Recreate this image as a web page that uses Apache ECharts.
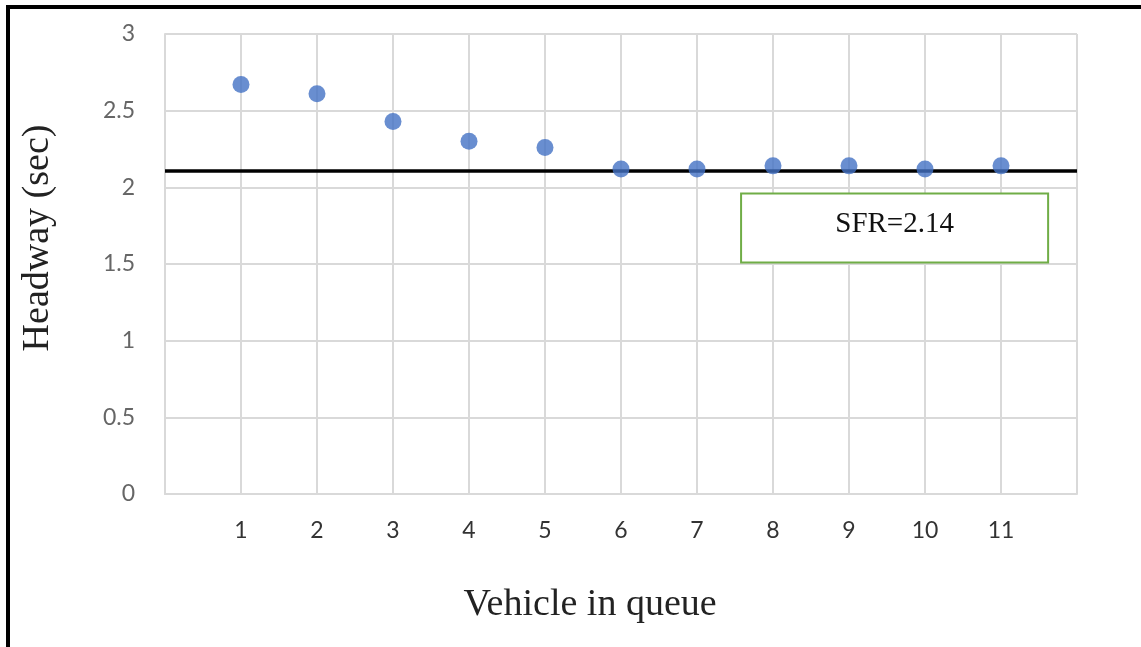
<!DOCTYPE html>
<html>
<head>
<meta charset="utf-8">
<script src="https://cdn.jsdelivr.net/npm/echarts@6/dist/echarts.min.js"></script>
<style>
  html, body { margin: 0; padding: 0; background: #fff; }
  #chart { width: 1141px; height: 647px; }
</style>
</head>
<body>
<div id="chart"></div>
<script>
// Vehicle position in the queue and the measured headway for each (sec)
const vehicles = [1, 2, 3, 4, 5, 6, 7, 8, 9, 10, 11];
const headways = [2.67, 2.61, 2.43, 2.30, 2.26, 2.12, 2.12, 2.14, 2.14, 2.12, 2.14];

// Saturation headway reference line and its annotation
const saturationLine = 2.11;
const sfrText = 'SFR=2.14';
const sfrBox = { x0: 7.58, x1: 11.62, y0: 1.51, y1: 1.96 };

// Axis ticks
const xTickLabels = ['1', '2', '3', '4', '5', '6', '7', '8', '9', '10', '11'];
const yTickLabels = ['0', '0.5', '1', '1.5', '2', '2.5', '3'];

const serif = '"Liberation Serif", "Times New Roman", serif';
const sans = 'Lato, "Open Sans", sans-serif';
const gridGrey = '#d9d9d9';

const chart = echarts.init(document.getElementById('chart'), null, { renderer: 'canvas' });

chart.setOption({
  animation: false,
  backgroundColor: '#fff',
  grid: { left: 165, right: 64, top: 34, bottom: 153, containLabel: false },
  xAxis: {
    type: 'value',
    min: 0,
    max: 12,
    interval: 1,
    name: 'Vehicle in queue',
    nameLocation: 'middle',
    nameGap: 92,
    nameTextStyle: { fontFamily: serif, fontSize: 38, color: '#222', padding: [0, 62, 0, 0] },
    axisLine: { show: true, lineStyle: { color: gridGrey, width: 2 } },
    axisTick: { show: false },
    splitLine: { show: true, lineStyle: { color: gridGrey, width: 2 } },
    axisLabel: {
      margin: 25,
      fontFamily: sans,
      fontSize: 23,
      color: '#333',
      formatter: v => (v >= 1 && v <= xTickLabels.length) ? xTickLabels[v - 1] : ''
    }
  },
  yAxis: {
    type: 'value',
    min: 0,
    max: 3,
    interval: 0.5,
    name: 'Headway (sec)',
    nameLocation: 'middle',
    nameGap: 108,
    nameRotate: 90,
    nameTextStyle: { fontFamily: serif, fontSize: 38, color: '#222', padding: [0, 0, 0, 52] },
    axisLine: { show: true, lineStyle: { color: gridGrey, width: 2 } },
    axisTick: { show: false },
    splitLine: { show: true, lineStyle: { color: gridGrey, width: 2 } },
    axisLabel: {
      margin: 30,
      fontFamily: sans,
      fontSize: 23,
      color: '#666',
      formatter: v => yTickLabels[Math.round(v * 2)]
    }
  },
  series: [{
    type: 'scatter',
    data: vehicles.map((v, i) => [v, headways[i]]),
    symbol: 'circle',
    symbolSize: 17,
    itemStyle: { color: '#4472c4' },
    z: 5,
    markLine: {
      silent: true,
      symbol: ['none', 'none'],
      label: { show: false },
      lineStyle: { color: '#000', width: 3.5, type: 'solid' },
      data: [{ yAxis: saturationLine }],
      z: 4
    },
    markArea: {
      silent: true,
      itemStyle: { color: '#fff', borderColor: '#70ad47', borderWidth: 2 },
      label: {
        show: true,
        position: 'inside',
        offset: [0, -4],
        fontFamily: serif,
        fontSize: 29,
        color: '#111'
      },
      data: [[
        { name: sfrText, coord: [sfrBox.x0, sfrBox.y1] },
        { coord: [sfrBox.x1, sfrBox.y0] }
      ]]
    }
  }],
  graphic: [
    // frame edges along the left and top of the figure
    { type: 'rect', left: 6, top: 5, shape: { width: 4, height: 642 }, style: { fill: '#000' } },
    { type: 'rect', left: 6, top: 5, shape: { width: 1135, height: 4 }, style: { fill: '#000' } }
  ]
});
</script>
</body>
</html>
